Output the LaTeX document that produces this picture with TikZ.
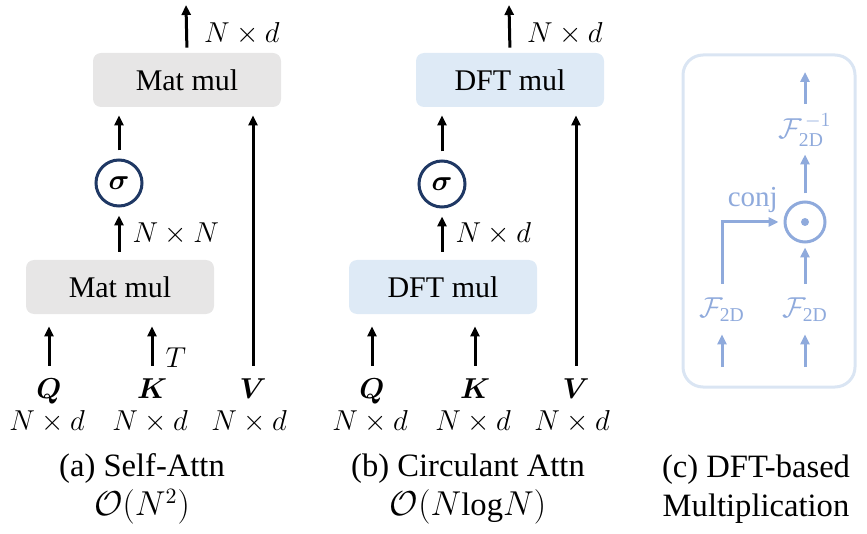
\documentclass[tikz,border=0pt]{standalone}
\usepackage{amsmath,bm}
\usepackage{fontspec}
\setmainfont{Liberation Serif}
\usetikzlibrary{arrows.meta}
\definecolor{matgray}{HTML}{E7E6E6}
\definecolor{dftblue}{HTML}{DEEAF6}
\definecolor{sigmanavy}{HTML}{1F3864}
\definecolor{fftblue}{HTML}{8FAADC}
\definecolor{framblue}{HTML}{DAE5F3}
\begin{document}
\begin{tikzpicture}[x=0.5pt, y=-0.5pt,
		opbox/.style={rounded corners=4pt, minimum width=94pt, minimum height=27pt, font=\fontsize{15}{18}\selectfont},
		sigmanode/.style={circle, draw=sigmanavy, line width=1.5pt, minimum size=23pt, inner sep=0pt, font=\fontsize{14}{16}\selectfont},
		inlabel/.style={inner sep=1pt, text height=10pt, text depth=2pt, font=\fontsize{14}{16}\selectfont},
		dimlabel/.style={inner sep=1pt, font=\fontsize{14}{16}\selectfont},
		fnode/.style={inner sep=1pt, text=fftblue, font=\fontsize{14}{16}\selectfont},
		flow/.style={line width=1.5pt, -{Triangle[length=5pt, width=4.5pt]}},
		cflow/.style={flow, draw=fftblue},
		subcap/.style={align=center, font=\fontsize{16.3}{19.5}\selectfont}]
		\useasboundingbox (0,0) rectangle (867,534);
		% (a) self-attention
		\node[opbox, fill=matgray] (mattop) at (187,80) {Mat mul};
		\node[opbox, fill=matgray] (matlow) at (120,287) {Mat mul};
		\node[sigmanode] (sigmaa) at (119,183) {$\boldsymbol{\sigma}$};
		\node[inlabel] (qa) at (49,390) {$\boldsymbol{Q}$};
		\node[inlabel] (ka) at (152,390) {$\boldsymbol{K}$};
		\node[inlabel] (va) at (253,390) {$\boldsymbol{V}$};
		\node[dimlabel] (qda) at (47,422) {$N\times d$};
		\node[dimlabel] (kda) at (150,422) {$N\times d$};
		\node[dimlabel] (vda) at (249,422) {$N\times d$};
		\coordinate (outa) at (186,5);
		\draw[flow, shorten <=5pt, shorten >=6pt] (qa.north) -- (qa.north |- matlow.south);
		\draw[flow, shorten <=5pt, shorten >=6pt] (ka.north) -- (ka.north |- matlow.south) node[pos=0.3, right, dimlabel, xshift=5pt] (ta) {$T$};
		\draw[flow, shorten <=5pt, shorten >=4pt] (va.north) -- (va.north |- mattop.south);
		\draw[flow, shorten <=4pt, shorten >=4pt] (sigmaa |- matlow.north) -- (sigmaa.south) node[midway, right, dimlabel, xshift=5pt] (nna) {$N\times N$};
		\draw[flow, shorten <=4pt, shorten >=4pt] (sigmaa.north) -- (sigmaa |- mattop.south);
		\draw[flow, shorten <=2.5pt] (mattop.north) -- (outa) node[pos=0.4, right, dimlabel, xshift=7pt] (nda) {$N\times d$};
		\node[subcap] (capa) at (142,489) {(a) Self-Attn\\$\mathcal{O}(N^2)$};
		% (b) circulant attention
		\node[opbox, fill=dftblue] (dfttop) at (510,80) {DFT mul};
		\node[opbox, fill=dftblue] (dftlow) at (443,287) {DFT mul};
		\node[sigmanode] (sigmab) at (442,184) {$\boldsymbol{\sigma}$};
		\node[inlabel] (qb) at (372,390) {$\boldsymbol{Q}$};
		\node[inlabel] (kb) at (475,390) {$\boldsymbol{K}$};
		\node[inlabel] (vb) at (576,390) {$\boldsymbol{V}$};
		\node[dimlabel] (qdb) at (370,422) {$N\times d$};
		\node[dimlabel] (kdb) at (473,422) {$N\times d$};
		\node[dimlabel] (vdb) at (572,422) {$N\times d$};
		\coordinate (outb) at (509,5);
		\draw[flow, shorten <=5pt, shorten >=6pt] (qb.north) -- (qb.north |- dftlow.south);
		\draw[flow, shorten <=5pt, shorten >=6pt] (kb.north) -- (kb.north |- dftlow.south);
		\draw[flow, shorten <=5pt, shorten >=4pt] (vb.north) -- (vb.north |- dfttop.south);
		\draw[flow, shorten <=4pt, shorten >=4pt] (sigmab |- dftlow.north) -- (sigmab.south) node[midway, right, dimlabel, xshift=5pt] (ndb) {$N\times d$};
		\draw[flow, shorten <=4pt, shorten >=4pt] (sigmab.north) -- (sigmab |- dfttop.south);
		\draw[flow, shorten <=2.5pt] (dfttop.north) -- (outb) node[pos=0.4, right, dimlabel, xshift=7pt] (ndtop) {$N\times d$};
		\node[subcap] (capb) at (468,489) {(b) Circulant Attn\\$\mathcal{O}(N\mathrm{log}N)$};
		% (c) DFT-based multiplication
		\draw[framblue, line width=1.5pt, rounded corners=10pt] (683,55) rectangle (855,387);
		\node[fnode] (fl) at (722,310) {$\mathcal{F}_{\mathrm{2D}}$};
		\node[fnode] (fr) at (805,310) {$\mathcal{F}_{\mathrm{2D}}$};
		\node[circle, draw=fftblue, line width=1.5pt, minimum size=20pt, inner sep=0pt] (odot) at (805,222) {};
		\fill[fftblue] (odot.center) circle (2pt);
		\node[fnode] (finv) at (805,130) {$\mathcal{F}_{\mathrm{2D}}^{\,-1}$};
		\coordinate (inl) at (722,367);
		\coordinate (inr) at (805,367);
		\coordinate (outc) at (805,72);
		\draw[cflow, shorten >=5pt] (inl) -- (fl.south);
		\draw[cflow, shorten >=5pt] (inr) -- (fr.south);
		\draw[cflow, shorten <=6pt, shorten >=2pt] (fr.north) -- (odot.south);
		\draw[cflow, shorten <=6pt, shorten >=2.5pt] (fl.north) |- (odot.west) node[pos=0.75, above, fnode, inner sep=4pt, font=\fontsize{14.5}{16}\selectfont] (conj) {conj};
		\draw[cflow, shorten <=3.5pt, shorten >=3pt] (odot.north) -- (finv.south);
		\draw[cflow, shorten <=4pt] (finv.north) -- (outc);
		\node[subcap] (capc) at (756,489) {(c) DFT-based\\Multiplication};
	\end{tikzpicture}
\end{document}
